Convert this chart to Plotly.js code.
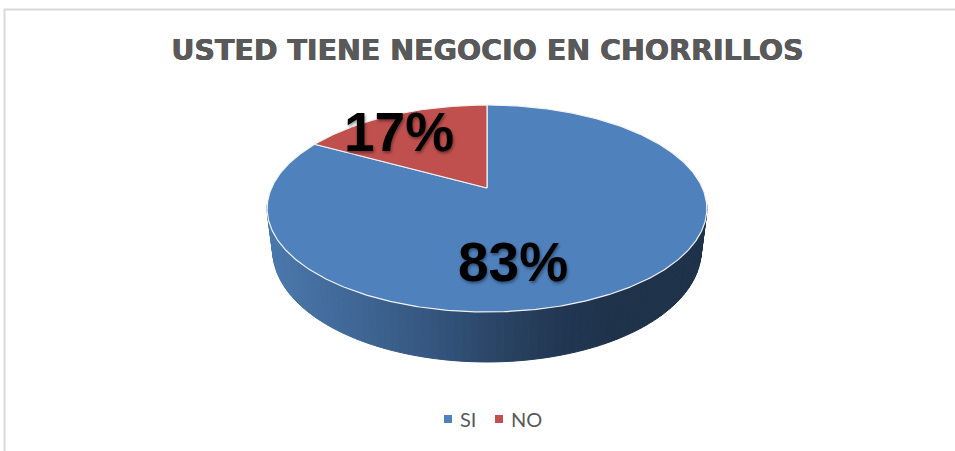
<!DOCTYPE html>
<html>
<head>
<meta charset="utf-8">
<script src="https://cdn.plot.ly/plotly-3.0.1.min.js"></script>
<style>html,body{margin:0;padding:0;background:#fff;overflow:hidden}#chart{width:955px;height:451px}</style>
</head>
<body>
<div id="chart"></div>
<script>
const chartTitle = "USTED TIENE NEGOCIO EN CHORRILLOS";
const categories = ["SI", "NO"];
const values = [83, 17];
const percentLabels = ["83%", "17%"];
const sliceColors = ["#4f81bd", "#c0504d"];

// Perspective projection of the unit disc onto the page (axes run in page units)
const cx = 487, cy = 188, rx = 215.5, ry = 62.2, persp = 0.198;
function project(t) {
  const u = Math.sin(t), v = Math.cos(t), d = 1 + persp * v;
  return {x: cx + rx * u / d, y: (cy - ry * v) / d, v: v};
}
function arc(a0, a1) {
  const n = Math.max(2, Math.ceil(Math.abs(a1 - a0) / 0.01)), pts = [];
  for (let i = 0; i <= n; i++) pts.push(project(a0 + (a1 - a0) * i / n));
  return pts;
}
function bottomOf(p) {
  return {x: cx + (p.x - cx) * 0.975, y: p.y + 39 + 11 * (-p.v)};
}
const wallStops = [[268,[74,120,172]],[350,[64,103,150]],[430,[52,86,127]],[487,[44,71,105]],[560,[33,55,82]],[620,[30,50,74]],[710,[30,50,74]]];
function wallColor(x) {
  for (let i = 1; i < wallStops.length; i++) {
    if (x <= wallStops[i][0]) {
      const a = wallStops[i-1], b = wallStops[i], f = Math.max(0,(x - a[0]) / (b[0] - a[0]));
      return "rgb(" + a[1].map((c, k) => Math.round(c + (b[1][k] - c) * f)).join(",") + ")";
    }
  }
  return "rgb(30,50,74)";
}

const total = values.reduce((a, b) => a + b, 0);
const traces = [];

// side wall
const wallStart = Math.PI * 0.545, wallEnd = Math.PI * 1.455, wallSteps = 90;
for (let i = 0; i < wallSteps; i++) {
  const a0 = wallStart + (wallEnd - wallStart) * i / wallSteps;
  const a1 = wallStart + (wallEnd - wallStart) * (i + 1) / wallSteps;
  const top = arc(a0, a1), bot = top.map(bottomOf).reverse();
  const poly = top.concat(bot);
  poly.push(poly[0]);
  const col = wallColor((top[0].x + top[top.length - 1].x) / 2);
  traces.push({type: "scatter", mode: "lines", x: poly.map(p => p.x), y: poly.map(p => p.y),
    fill: "toself", fillcolor: col, line: {color: col, width: 1}, showlegend: false, hoverinfo: "skip"});
}

// top slices
let start = 0;
values.forEach((val, i) => {
  const end = start + 2 * Math.PI * val / total;
  const rim = arc(start, end);
  const c = {x: cx, y: cy};
  const poly = [c].concat(rim, [c]);
  traces.push({type: "scatter", mode: "lines", name: categories[i], x: poly.map(p => p.x), y: poly.map(p => p.y),
    fill: "toself", fillcolor: sliceColors[i], line: {color: "#f2f2f2", width: 1.2},
    showlegend: false, hoverinfo: "name"});
  start = end;
});

// legend keys
const legendX = [448, 499], legendY = 419, legendTextX = [460, 511];
categories.forEach((name, i) => {
  traces.push({type: "scatter", mode: "markers", name: name, x: [legendX[i]], y: [legendY],
    marker: {symbol: "square", size: 8, color: sliceColors[i]}, showlegend: false, hoverinfo: "name"});
});

const labelPos = [[513, 262], [399, 132]];
const layout = {
  width: 955, height: 451, margin: {l: 0, r: 0, t: 0, b: 0}, showlegend: false,
  paper_bgcolor: "#fff", plot_bgcolor: "#fff",
  title: {text: "<b>" + chartTitle + "</b>", x: 487.5 / 955, xanchor: "center", y: 1 - 50 / 451, yanchor: "middle",
    font: {family: "DejaVu Sans, sans-serif", size: 28.5, color: "#595959", shadow: "0.4px 0 0 #595959, -0.4px 0 0 #595959"}},
  xaxis: {range: [0, 955], visible: false, fixedrange: true},
  yaxis: {range: [451, 0], visible: false, fixedrange: true},
  shapes: [
    {type: "line", x0: 4.5, x1: 4.5, y0: 9, y1: 451, line: {color: "#d9d9d9", width: 2}},
    {type: "line", x0: 4, x1: 955, y0: 9.5, y1: 9.5, line: {color: "#d9d9d9", width: 2}}
  ],
  annotations: percentLabels.map((t, i) => ({
    text: "<b>" + t + "</b>", x: labelPos[i][0], y: labelPos[i][1], showarrow: false, xanchor: "center", yanchor: "middle",
    font: {family: "Liberation Sans, Arial, sans-serif", size: 55, color: "#000", shadow: "1px 2px 3px rgba(0,0,0,0.4)"}
  })).concat(categories.map((name, i) => ({
    text: name, x: legendTextX[i], y: legendY, showarrow: false, xanchor: "left", yanchor: "middle", xshift: -2,
    font: {family: "Lato, sans-serif", size: 20, color: "#595959"}
  })))
};
Plotly.newPlot("chart", traces, layout, {displayModeBar: false, responsive: false});
</script>
</body>
</html>
